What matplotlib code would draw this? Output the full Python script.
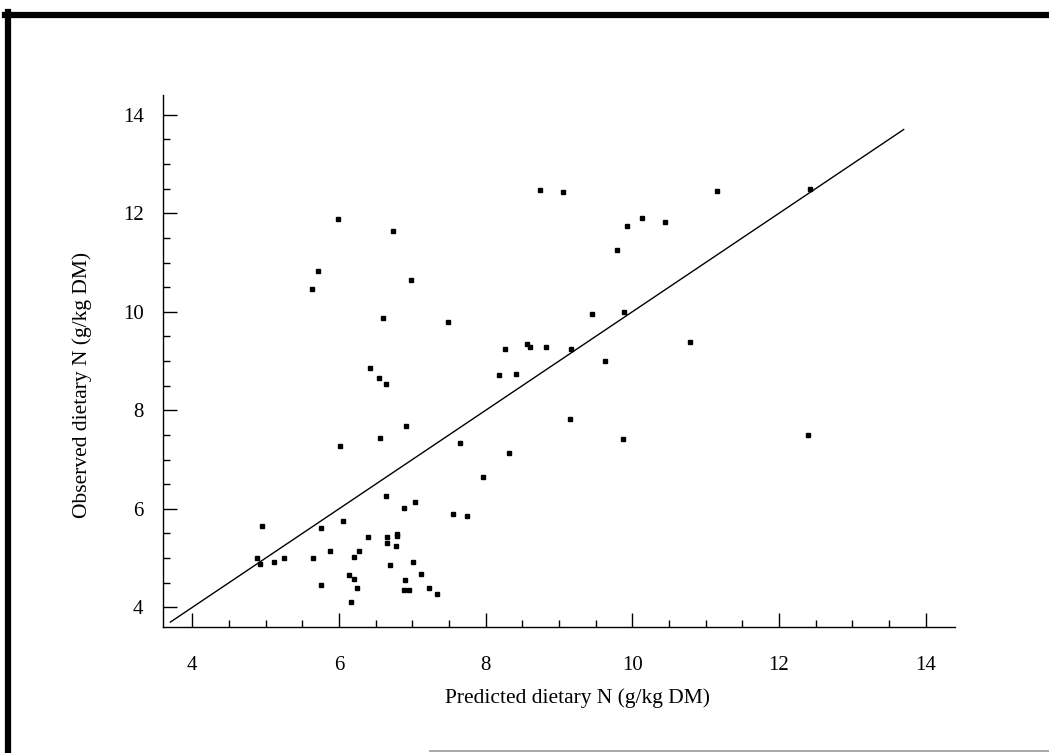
import matplotlib.pyplot as plt
from matplotlib.lines import Line2D
from matplotlib.ticker import MultipleLocator

# predicted vs observed dietary N (g/kg DM)
predicted = [
    5.99, 6.73, 5.72, 5.63, 6.98, 6.60, 7.48, 6.42, 6.54, 6.64,
    8.18, 6.92, 6.56, 6.01, 7.65, 7.97, 6.64, 6.88, 7.03, 7.55,
    7.75, 4.95, 5.75, 6.06, 6.40, 6.65, 6.66, 6.79, 6.79, 6.78,
    6.27, 5.88, 6.20, 4.88, 4.92, 5.12, 5.25, 5.65, 6.70, 7.01,
    7.12, 6.13, 6.21, 5.75, 6.24, 6.90, 6.89, 6.96, 7.23, 7.34,
    6.16, 8.74, 9.06, 11.15, 12.42, 10.13, 9.93, 10.45, 9.79, 9.45,
    9.89, 8.27, 8.56, 8.60, 8.82, 9.17, 8.41, 9.63, 10.79, 8.32,
    9.15, 9.87, 12.39,
]
observed = [
    11.88, 11.63, 10.83, 10.46, 10.64, 9.88, 9.80, 8.85, 8.66, 8.53,
    8.71, 7.69, 7.44, 7.28, 7.33, 6.65, 6.25, 6.02, 6.14, 5.89,
    5.86, 5.65, 5.62, 5.76, 5.42, 5.42, 5.30, 5.49, 5.44, 5.24,
    5.15, 5.14, 5.03, 5.00, 4.87, 4.91, 5.00, 5.01, 4.86, 4.92,
    4.67, 4.65, 4.57, 4.46, 4.40, 4.55, 4.36, 4.36, 4.40, 4.27,
    4.10, 12.48, 12.44, 12.46, 12.50, 11.91, 11.75, 11.83, 11.25, 9.95,
    9.99, 9.24, 9.35, 9.29, 9.29, 9.25, 8.73, 9.00, 9.39, 7.13,
    7.82, 7.41, 7.50,
]
line_ends = [3.7, 13.7]  # 1:1 line

plt.rcParams['font.family'] = ['Liberation Serif', 'DejaVu Serif']

fig = plt.figure(figsize=(10.49, 7.53), dpi=100)
ax = fig.add_axes([0.1554, 0.1673, 0.755, 0.7065])

ax.plot(line_ends, line_ends, color='black', lw=1.0)
ax.plot(predicted, observed, linestyle='none', marker='s', markersize=3.4,
        color='black')

ax.set_xlim(3.6, 14.4)
ax.set_ylim(3.6, 14.4)
ax.xaxis.set_major_locator(MultipleLocator(2))
ax.xaxis.set_minor_locator(MultipleLocator(0.5))
ax.yaxis.set_major_locator(MultipleLocator(2))
ax.yaxis.set_minor_locator(MultipleLocator(0.5))
ax.tick_params(which='both', direction='in', labelsize=15, width=1)
ax.tick_params(which='major', length=10, pad=21)
ax.tick_params(axis='y', which='major', pad=14)
ax.tick_params(which='minor', length=5)

for side in ['top', 'right']:
    ax.spines[side].set_visible(False)
for side in ['left', 'bottom']:
    ax.spines[side].set_linewidth(1.0)

ax.set_xlabel('Predicted dietary N (g/kg DM)', fontsize=15.5)
ax.set_ylabel('Observed dietary N (g/kg DM)', fontsize=15.5)
ax.xaxis.set_label_coords(0.523, -0.115)
ax.yaxis.set_label_coords(-0.09, 0.455)

# page frame from the scan
W, H = 1049, 753
fig.add_artist(Line2D([5 / W, 1.0], [1 - 15 / H, 1 - 15 / H], color='black',
                      lw=4.5, transform=fig.transFigure))
fig.add_artist(Line2D([8 / W, 8 / W], [0, 1 - 12 / H], color='black',
                      lw=4.5, transform=fig.transFigure))
fig.add_artist(Line2D([430 / W, 1.0], [1 - 751 / H, 1 - 751 / H], color='#999999',
                      lw=1.2, transform=fig.transFigure))

fig.savefig('out.png', dpi=100)
